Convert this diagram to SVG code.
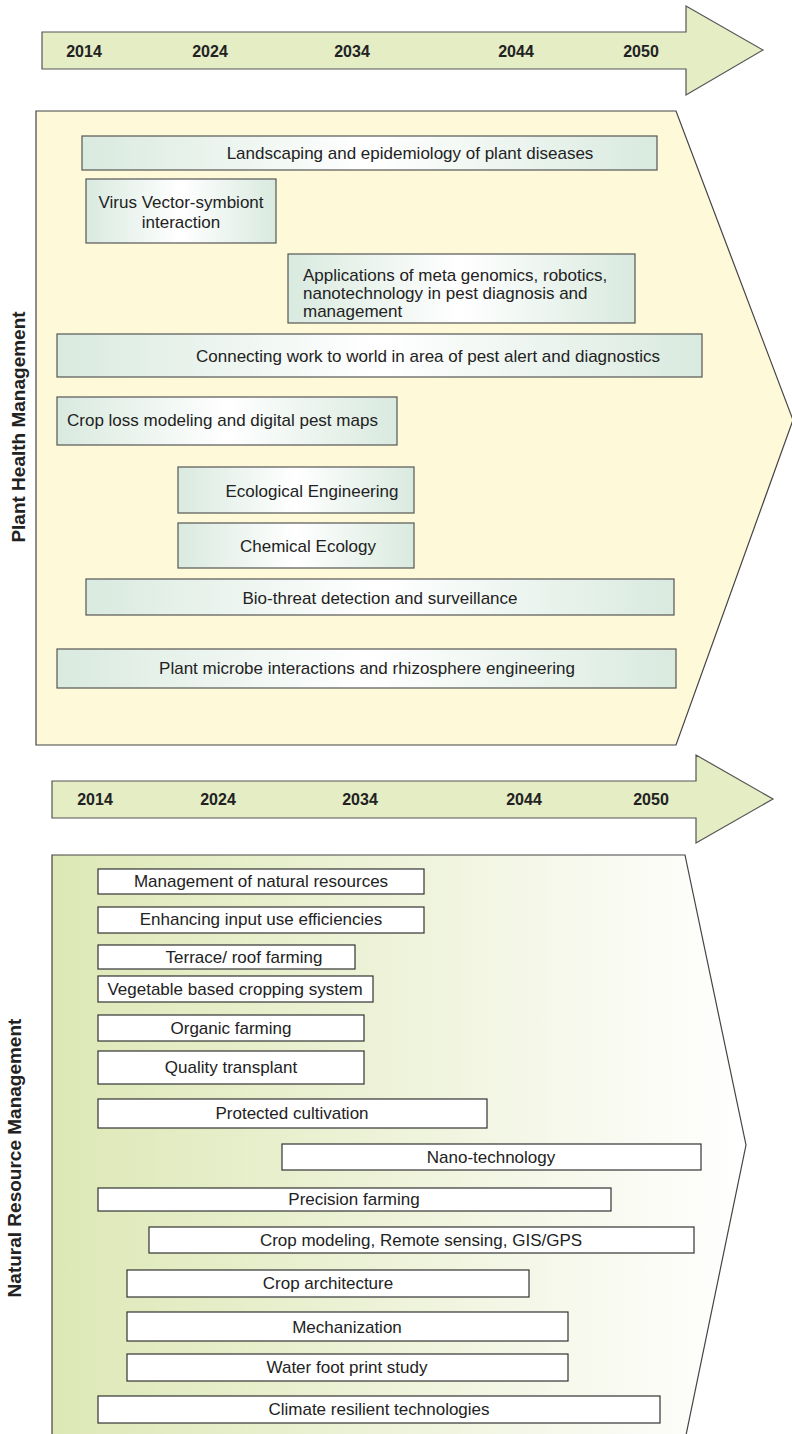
<svg xmlns="http://www.w3.org/2000/svg" width="792" height="1434" viewBox="0 0 792 1434">
<defs>
<linearGradient id="boxg" x1="0" y1="0" x2="1" y2="0">
<stop offset="0" stop-color="#d9eadf"/>
<stop offset="0.5" stop-color="#ffffff"/>
<stop offset="1" stop-color="#d9eadf"/>
</linearGradient>
<linearGradient id="nrmg" x1="0" y1="0" x2="1" y2="0">
<stop offset="0" stop-color="#dde8b6"/>
<stop offset="0.5" stop-color="#eef3da"/>
<stop offset="1" stop-color="#ffffff"/>
</linearGradient>
</defs>
<style>
.arrow{fill:#e4edc4;stroke:#555;stroke-width:1.2}
.yr{font-family:"Liberation Sans",Arial,sans-serif;font-weight:bold;font-size:16px;fill:#222;text-anchor:middle}
.phm{fill:#fef9d8;stroke:#444;stroke-width:1.2}
.nrm{fill:url(#nrmg);stroke:#444;stroke-width:1.2}
.gb{fill:url(#boxg);stroke:#555;stroke-width:1.2}
.wb{fill:#fff;stroke:#333;stroke-width:1.2}
.t{font-family:"Liberation Sans",Arial,sans-serif;font-size:17px;fill:#222;text-anchor:middle}
.tl{font-family:"Liberation Sans",Arial,sans-serif;font-size:17px;fill:#222}
.side{font-family:"Liberation Sans",Arial,sans-serif;font-weight:bold;font-size:19px;fill:#222;text-anchor:middle}
</style>

<g id="timeline-top">
<path class="arrow" d="M42,32 L686,32 L686,6 L763,50 L686,95 L686,69 L42,69 Z"/>
<text class="yr" x="84" y="57">2014</text>
<text class="yr" x="210" y="57">2024</text>
<text class="yr" x="352" y="57">2034</text>
<text class="yr" x="516" y="57">2044</text>
<text class="yr" x="641" y="57">2050</text>
</g>

<g id="plant-health-panel">
<path class="phm" d="M36,111 L676,111 L793,420 L676,745 L36,745 Z"/>
<text class="side" transform="translate(25,427) rotate(-90)">Plant Health Management</text>
</g>

<g id="ph1"><rect class="gb" x="82" y="136" width="575" height="34"/><text class="t" x="410" y="159">Landscaping and epidemiology of plant diseases</text></g>
<g id="ph2"><rect class="gb" x="86" y="179" width="190" height="64"/><text class="t" x="181" y="208">Virus Vector-symbiont</text><text class="t" x="181" y="228">interaction</text></g>
<g id="ph3"><rect class="gb" x="288" y="254" width="347" height="69"/><text class="tl" x="303" y="281">Applications of meta genomics, robotics,</text><text class="tl" x="303" y="299">nanotechnology in pest diagnosis and</text><text class="tl" x="303" y="317">management</text></g>
<g id="ph4"><rect class="gb" x="57" y="334" width="645" height="43"/><text class="t" x="428" y="362">Connecting work to world in area of pest alert and diagnostics</text></g>
<g id="ph5"><rect class="gb" x="57" y="397" width="340" height="48"/><text class="tl" x="67" y="426">Crop loss modeling and digital pest maps</text></g>
<g id="ph6"><rect class="gb" x="178" y="467" width="236" height="46"/><text class="t" x="312" y="497">Ecological Engineering</text></g>
<g id="ph7"><rect class="gb" x="178" y="523" width="236" height="45"/><text class="t" x="308" y="552">Chemical Ecology</text></g>
<g id="ph8"><rect class="gb" x="86" y="579" width="588" height="36"/><text class="t" x="380" y="604">Bio-threat detection and surveillance</text></g>
<g id="ph9"><rect class="gb" x="57" y="649" width="619" height="39"/><text class="t" x="367" y="674">Plant microbe interactions and rhizosphere engineering</text></g>

<g id="timeline-bottom">
<path class="arrow" d="M52,781 L696,781 L696,755 L773,799 L696,843 L696,818 L52,818 Z"/>
<text class="yr" x="95" y="805">2014</text>
<text class="yr" x="218" y="805">2024</text>
<text class="yr" x="360" y="805">2034</text>
<text class="yr" x="524" y="805">2044</text>
<text class="yr" x="651" y="805">2050</text>
</g>

<g id="nrm-panel">
<path class="nrm" d="M52,1440 L52,855 L685,855 L746,1145 L685,1440"/>
<text class="side" transform="translate(21,1158) rotate(-90)">Natural Resource Management</text>
</g>

<g id="nr1"><rect class="wb" x="98" y="869" width="326" height="25"/><text class="t" x="261" y="887">Management of natural resources</text></g>
<g id="nr2"><rect class="wb" x="98" y="907" width="326" height="26"/><text class="t" x="261" y="925">Enhancing input use efficiencies</text></g>
<g id="nr3"><rect class="wb" x="98" y="945" width="257" height="24"/><text class="t" x="244" y="963">Terrace/ roof farming</text></g>
<g id="nr4"><rect class="wb" x="98" y="976" width="275" height="26"/><text class="t" x="235" y="995">Vegetable based cropping system</text></g>
<g id="nr5"><rect class="wb" x="98" y="1015" width="266" height="26"/><text class="t" x="231" y="1034">Organic farming</text></g>
<g id="nr6"><rect class="wb" x="98" y="1051" width="266" height="33"/><text class="t" x="231" y="1073">Quality transplant</text></g>
<g id="nr7"><rect class="wb" x="98" y="1099" width="389" height="29"/><text class="t" x="292" y="1119">Protected cultivation</text></g>
<g id="nr8"><rect class="wb" x="282" y="1144" width="419" height="26"/><text class="t" x="491" y="1163">Nano-technology</text></g>
<g id="nr9"><rect class="wb" x="98" y="1188" width="513" height="23"/><text class="t" x="354" y="1205">Precision farming</text></g>
<g id="nr10"><rect class="wb" x="149" y="1227" width="545" height="26"/><text class="t" x="421" y="1246">Crop modeling, Remote sensing, GIS/GPS</text></g>
<g id="nr11"><rect class="wb" x="127" y="1270" width="402" height="27"/><text class="t" x="328" y="1289">Crop architecture</text></g>
<g id="nr12"><rect class="wb" x="127" y="1312" width="441" height="29"/><text class="t" x="347" y="1333">Mechanization</text></g>
<g id="nr13"><rect class="wb" x="127" y="1354" width="441" height="27"/><text class="t" x="347" y="1373">Water foot print study</text></g>
<g id="nr14"><rect class="wb" x="98" y="1396" width="562" height="27"/><text class="t" x="379" y="1415">Climate resilient technologies</text></g>

<g id="connectors"></g>
</svg>
